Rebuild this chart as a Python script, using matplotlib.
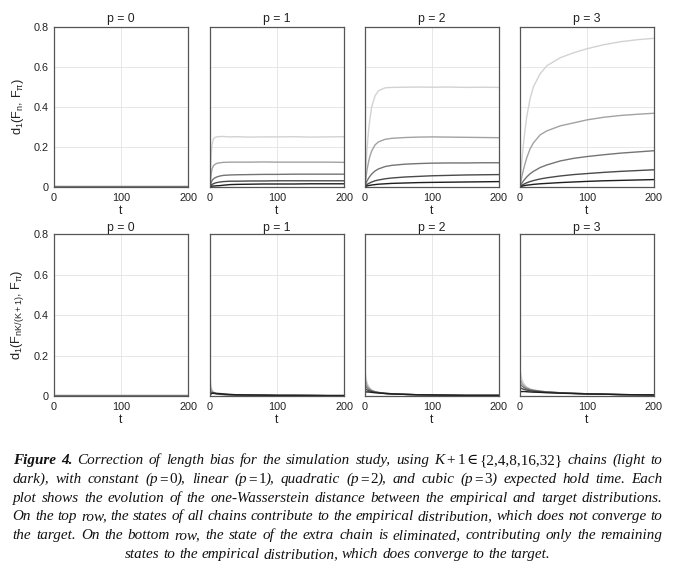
import matplotlib
matplotlib.use("Agg")
import matplotlib.pyplot as plt

# ---------------- data ----------------
t_pts = [0, 1, 2, 3, 5, 7, 10, 15, 20, 30, 40, 60, 80, 100, 125, 150, 175, 200]
p_values = [0, 1, 2, 3]
chains = [2, 4, 8, 16, 32]  # K+1, light to dark

top_p0 = [
    [0.004, 0.004, 0.004, 0.004, 0.003, 0.003, 0.003, 0.003, 0.003, 0.003, 0.003, 0.003, 0.003, 0.003, 0.003, 0.003, 0.003, 0.003],
    [0.003, 0.003, 0.003, 0.003, 0.003, 0.003, 0.003, 0.003, 0.003, 0.003, 0.003, 0.003, 0.003, 0.003, 0.003, 0.003, 0.003, 0.003],
    [0.002, 0.002, 0.002, 0.002, 0.002, 0.002, 0.002, 0.002, 0.002, 0.002, 0.002, 0.002, 0.002, 0.002, 0.002, 0.002, 0.002, 0.002],
    [0.002, 0.002, 0.002, 0.002, 0.002, 0.002, 0.002, 0.002, 0.002, 0.002, 0.002, 0.002, 0.002, 0.002, 0.002, 0.002, 0.002, 0.002],
    [0.001, 0.001, 0.001, 0.001, 0.001, 0.001, 0.001, 0.001, 0.001, 0.001, 0.001, 0.001, 0.001, 0.001, 0.001, 0.001, 0.001, 0.001],
]
top_p1 = [
    [0, 0.10, 0.17, 0.21, 0.24, 0.247, 0.25, 0.252, 0.252, 0.25, 0.251, 0.249, 0.25, 0.25, 0.251, 0.249, 0.25, 0.251],
    [0, 0.04, 0.07, 0.09, 0.105, 0.112, 0.118, 0.121, 0.123, 0.124, 0.124, 0.124, 0.125, 0.124, 0.124, 0.124, 0.124, 0.123],
    [0, 0.015, 0.025, 0.032, 0.04, 0.045, 0.05, 0.055, 0.058, 0.06, 0.061, 0.062, 0.063, 0.063, 0.064, 0.064, 0.064, 0.064],
    [0, 0.006, 0.01, 0.013, 0.016, 0.019, 0.022, 0.025, 0.027, 0.029, 0.029, 0.03, 0.03, 0.031, 0.031, 0.031, 0.031, 0.031],
    [0, 0.002, 0.003, 0.004, 0.005, 0.005, 0.006, 0.007, 0.009, 0.012, 0.013, 0.014, 0.015, 0.015, 0.015, 0.016, 0.016, 0.016],
]
top_p2 = [
    [0, 0.07, 0.13, 0.19, 0.27, 0.33, 0.40, 0.455, 0.48, 0.495, 0.497, 0.498, 0.499, 0.498, 0.499, 0.497, 0.498, 0.497],
    [0, 0.03, 0.06, 0.085, 0.12, 0.15, 0.18, 0.21, 0.225, 0.238, 0.243, 0.247, 0.249, 0.25, 0.249, 0.248, 0.247, 0.246],
    [0, 0.012, 0.022, 0.03, 0.042, 0.052, 0.065, 0.08, 0.09, 0.102, 0.108, 0.114, 0.117, 0.119, 0.12, 0.12, 0.121, 0.121],
    [0, 0.005, 0.009, 0.012, 0.017, 0.02, 0.025, 0.031, 0.035, 0.041, 0.045, 0.05, 0.053, 0.056, 0.058, 0.06, 0.061, 0.062],
    [0, 0.002, 0.004, 0.005, 0.007, 0.008, 0.01, 0.012, 0.014, 0.016, 0.018, 0.02, 0.022, 0.023, 0.024, 0.025, 0.026, 0.027],
]
top_p3 = [
    [0, 0.05, 0.10, 0.14, 0.21, 0.27, 0.35, 0.44, 0.50, 0.565, 0.605, 0.645, 0.67, 0.69, 0.71, 0.725, 0.735, 0.742],
    [0, 0.02, 0.04, 0.055, 0.085, 0.11, 0.145, 0.19, 0.22, 0.26, 0.28, 0.305, 0.32, 0.335, 0.348, 0.357, 0.363, 0.368],
    [0, 0.008, 0.015, 0.02, 0.03, 0.038, 0.05, 0.066, 0.078, 0.097, 0.11, 0.13, 0.143, 0.152, 0.161, 0.169, 0.175, 0.181],
    [0, 0.004, 0.007, 0.009, 0.013, 0.016, 0.021, 0.027, 0.032, 0.04, 0.046, 0.055, 0.062, 0.067, 0.073, 0.078, 0.082, 0.086],
    [0, 0.002, 0.003, 0.004, 0.006, 0.007, 0.009, 0.011, 0.013, 0.016, 0.018, 0.022, 0.025, 0.028, 0.031, 0.033, 0.035, 0.037],
]

bot_p0 = [
    [0.004, 0.004, 0.003, 0.003, 0.003, 0.003, 0.003, 0.003, 0.003, 0.003, 0.003, 0.003, 0.003, 0.003, 0.003, 0.003, 0.003, 0.003],
    [0.003, 0.003, 0.003, 0.003, 0.003, 0.003, 0.003, 0.003, 0.003, 0.003, 0.003, 0.003, 0.003, 0.003, 0.003, 0.003, 0.003, 0.003],
    [0.002, 0.002, 0.002, 0.002, 0.002, 0.002, 0.002, 0.002, 0.002, 0.002, 0.002, 0.002, 0.002, 0.002, 0.002, 0.002, 0.002, 0.002],
    [0.002, 0.002, 0.002, 0.002, 0.002, 0.002, 0.002, 0.002, 0.002, 0.002, 0.002, 0.002, 0.002, 0.002, 0.002, 0.002, 0.002, 0.002],
    [0.001, 0.001, 0.001, 0.001, 0.001, 0.001, 0.001, 0.001, 0.001, 0.001, 0.001, 0.001, 0.001, 0.001, 0.001, 0.001, 0.001, 0.001],
]
bot_p1 = [
    [0.10, 0.06, 0.04, 0.03, 0.02, 0.015, 0.011, 0.008, 0.007, 0.006, 0.005, 0.004, 0.004, 0.003, 0.003, 0.003, 0.002, 0.002],
    [0.05, 0.04, 0.03, 0.025, 0.018, 0.014, 0.011, 0.008, 0.007, 0.006, 0.005, 0.004, 0.004, 0.003, 0.003, 0.003, 0.002, 0.002],
    [0.025, 0.022, 0.02, 0.018, 0.015, 0.013, 0.011, 0.009, 0.008, 0.006, 0.005, 0.004, 0.004, 0.003, 0.003, 0.003, 0.002, 0.002],
    [0.012, 0.013, 0.014, 0.014, 0.013, 0.012, 0.011, 0.009, 0.008, 0.006, 0.005, 0.004, 0.004, 0.003, 0.003, 0.003, 0.002, 0.002],
    [0.005, 0.008, 0.011, 0.013, 0.014, 0.014, 0.013, 0.012, 0.01, 0.008, 0.006, 0.005, 0.004, 0.003, 0.003, 0.002, 0.002, 0.002],
]
bot_p2 = [
    [0.13, 0.10, 0.08, 0.065, 0.05, 0.04, 0.03, 0.022, 0.018, 0.013, 0.011, 0.008, 0.006, 0.005, 0.004, 0.003, 0.003, 0.003],
    [0.09, 0.075, 0.062, 0.052, 0.042, 0.035, 0.027, 0.021, 0.018, 0.013, 0.011, 0.008, 0.006, 0.005, 0.004, 0.003, 0.003, 0.003],
    [0.055, 0.05, 0.045, 0.04, 0.034, 0.03, 0.025, 0.02, 0.017, 0.013, 0.011, 0.008, 0.006, 0.005, 0.004, 0.003, 0.003, 0.003],
    [0.035, 0.034, 0.032, 0.03, 0.027, 0.025, 0.022, 0.019, 0.016, 0.013, 0.011, 0.008, 0.006, 0.005, 0.004, 0.003, 0.003, 0.003],
    [0.02, 0.02, 0.02, 0.02, 0.02, 0.019, 0.018, 0.016, 0.015, 0.012, 0.010, 0.008, 0.006, 0.005, 0.004, 0.003, 0.003, 0.003],
]
bot_p3 = [
    [0.13, 0.11, 0.095, 0.08, 0.065, 0.055, 0.045, 0.035, 0.03, 0.024, 0.02, 0.016, 0.013, 0.011, 0.009, 0.007, 0.006, 0.005],
    [0.085, 0.078, 0.07, 0.062, 0.054, 0.047, 0.04, 0.033, 0.029, 0.024, 0.02, 0.016, 0.013, 0.011, 0.009, 0.007, 0.006, 0.005],
    [0.06, 0.057, 0.053, 0.049, 0.044, 0.04, 0.035, 0.03, 0.027, 0.023, 0.02, 0.016, 0.013, 0.011, 0.009, 0.007, 0.006, 0.005],
    [0.04, 0.039, 0.038, 0.036, 0.034, 0.032, 0.029, 0.026, 0.024, 0.021, 0.019, 0.015, 0.013, 0.011, 0.009, 0.007, 0.006, 0.005],
    [0.02, 0.021, 0.022, 0.022, 0.022, 0.022, 0.021, 0.02, 0.019, 0.018, 0.016, 0.014, 0.012, 0.01, 0.009, 0.007, 0.006, 0.005],
]

x_ticks = [0, 100, 200]
y_ticks = [0, 0.2, 0.4, 0.6, 0.8]
y_tick_labels = ["0", "0.2", "0.4", "0.6", "0.8"]

# ---------------- styling ----------------
line_colors = ["#d2d2d2", "#a2a2a2", "#747474", "#4a4a4a", "#1e1e1e"]
plt.rcParams["font.family"] = ["Liberation Sans", "DejaVu Sans"]
plt.rcParams["mathtext.fontset"] = "custom"
plt.rcParams["mathtext.rm"] = "Liberation Sans"
plt.rcParams["mathtext.it"] = "Liberation Sans:italic"
plt.rcParams["mathtext.default"] = "regular"

W, H = 680, 570
fig = plt.figure(figsize=(W / 100, H / 100), dpi=100)

col_left = [54, 210, 365, 520]
col_w = 134
rows = [(26.7, 187.0), (234.0, 396.0)]
top_data = [top_p0, top_p1, top_p2, top_p3]
bot_data = [bot_p0, bot_p1, bot_p2, bot_p3]
ylabels = [r"d$_1$(F$_n$, F$_\pi$)", r"d$_1$(F$_{nK/(K+1)}$, F$_\pi$)"]

for r, (ytop, ybot) in enumerate(rows):
    data_row = top_data if r == 0 else bot_data
    for c in range(4):
        ax = fig.add_axes([col_left[c] / W, 1 - ybot / H, col_w / W, (ybot - ytop) / H])
        for k, series in enumerate(data_row[c]):
            ax.plot(t_pts, series, color=line_colors[k], lw=1.0, solid_capstyle="butt")
        ax.set_xlim(0, 200)
        ax.set_ylim(0, 0.8)
        ax.set_xticks(x_ticks)
        ax.set_yticks(y_ticks)
        ax.grid(True, color="#e3e3e3", lw=0.6)
        ax.set_axisbelow(True)
        ax.tick_params(length=0, labelsize=7.8, colors="#222222", pad=4)
        for s in ax.spines.values():
            s.set_color("#555555")
            s.set_linewidth(0.9)
        ax.set_title(f"p = {p_values[c]}", fontsize=8.8, pad=3.5 if r == 0 else 1.5, color="#222222")
        ax.set_xlabel("t", fontsize=8.8, labelpad=2, color="#222222")
        if c == 0:
            ax.set_yticklabels(y_tick_labels)
            ax.set_ylabel(ylabels[r], fontsize=9.2, labelpad=5, color="#222222")
        else:
            ax.set_yticklabels([])

# ---------------- caption (justified, word by word) ----------------
serif = ["Liberation Serif", "DejaVu Serif"]
styles = {
    "it": dict(style="italic", weight="normal"),
    "bi": dict(style="italic", weight="bold"),
    "rm": dict(style="normal", weight="normal"),
}


def W_(s, st="it", gap=0.0):
    return [(s, st, gap)]


def words_of(text):
    return [W_(w) for w in text.split(" ")]


lines = [
    [W_("Figure", "bi"), W_("4.", "bi")] + words_of("Correction of length bias for the simulation study, using")
    + [[("K", "it", 0), ("+", "rm", 2.5), ("1", "rm", 2.5), ("\u2208", "rm", 1.5), ("{2,4,8,16,32}", "rm", 1.5)]]
    + words_of("chains (light to"),
    words_of("dark), with constant")
    + [[("(p", "it", 0), ("=", "rm", 1.5), ("0", "rm", 1.5), ("),", "it", 0)]]
    + words_of("linear")
    + [[("(p", "it", 0), ("=", "rm", 1.5), ("1", "rm", 1.5), ("),", "it", 0)]]
    + words_of("quadratic")
    + [[("(p", "it", 0), ("=", "rm", 1.5), ("2", "rm", 1.5), ("),", "it", 0)]]
    + words_of("and cubic")
    + [[("(p", "it", 0), ("=", "rm", 1.5), ("3", "rm", 1.5), (")", "it", 0)]]
    + words_of("expected hold time. Each"),
    words_of("plot shows the evolution of the one-Wasserstein distance between the empirical and target distributions."),
    words_of("On the top row, the states of all chains contribute to the empirical distribution, which does not converge to"),
    words_of("the target. On the bottom row, the state of the extra chain is eliminated, contributing only the remaining"),
    words_of("states to the empirical distribution, which does converge to the target."),
]
baselines = [464.0, 482.8, 501.6, 520.4, 539.2, 558.0]
L, R = 12.7, 662.7

renderer = fig.canvas.get_renderer()


def measure(s, st, size):
    t = fig.text(0, 0, s, fontsize=size, family=serif, **styles[st])
    w = t.get_window_extent(renderer).width
    t.remove()
    return w


def line_natural(words, size):
    sp = measure("a a", "it", size) - measure("aa", "it", size)
    tot = 0.0
    for word in words:
        tot += sum(measure(s, st, size) for s, st, g in word) + sum(g for _, _, g in word)
    return tot + sp * (len(words) - 1)


# caption size chosen so the widest justified line just fits with normal spacing
base = 10.0
widest = max(line_natural(w, base) for w in lines[:-1])
cap_size = min(12.0, base * (R - L - 2) / widest)

space_w = measure("a a", "it", cap_size) - measure("aa", "it", cap_size)

for i, (words, yb) in enumerate(zip(lines, baselines)):
    widths = []
    piece_w = []
    for word in words:
        pw = [measure(s, st, cap_size) for s, st, g in word]
        piece_w.append(pw)
        widths.append(sum(pw) + sum(g for _, _, g in word))
    if i < len(lines) - 1:
        gap = (R - L - sum(widths)) / (len(words) - 1)
        x = L
    else:
        gap = space_w
        total = sum(widths) + gap * (len(words) - 1)
        x = (L + R) / 2 - total / 2
    for word, pw in zip(words, piece_w):
        for (s, st, g), w in zip(word, pw):
            x += g
            fig.text(x / W, 1 - yb / H, s, fontsize=cap_size, family=serif,
                     ha="left", va="baseline", color="#111111", **styles[st])
            x += w
        x += gap

fig.savefig("out.png", dpi=100)
